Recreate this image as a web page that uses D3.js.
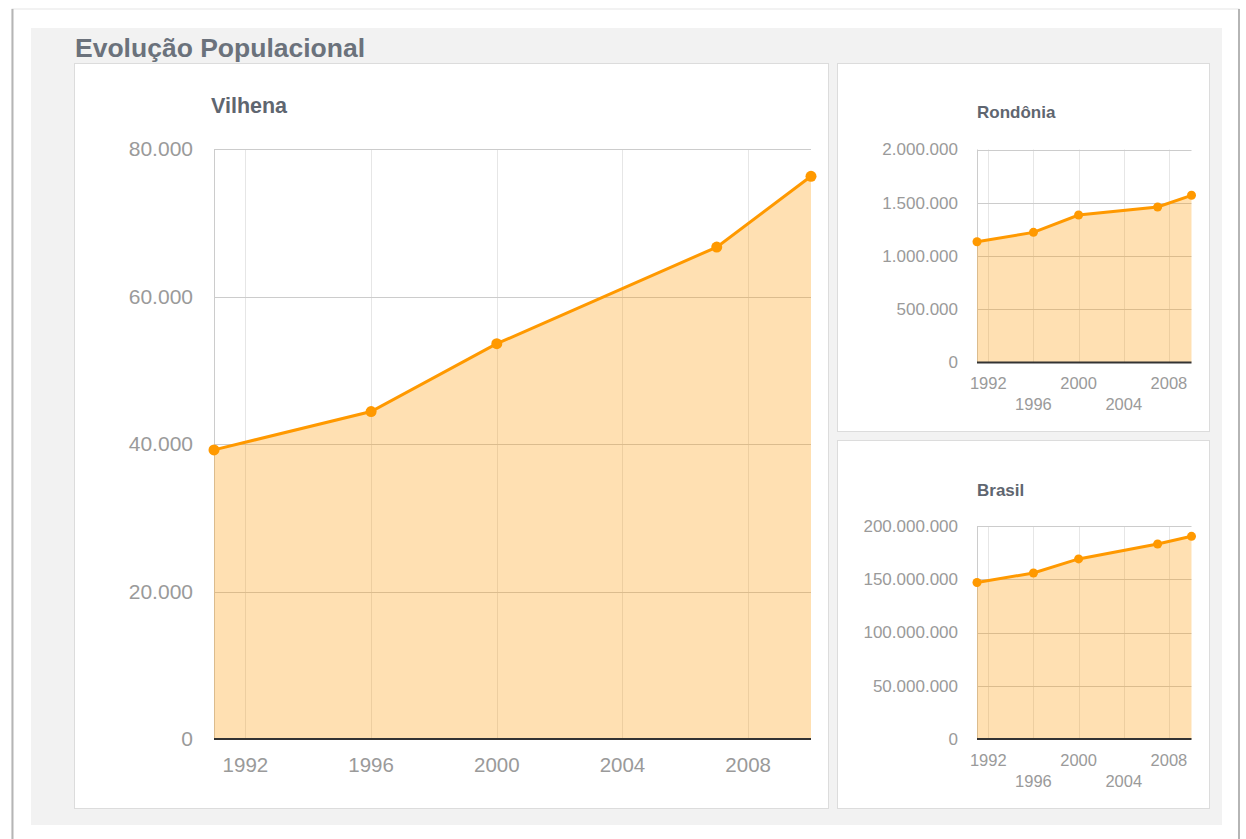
<!DOCTYPE html>
<html>
<head>
<meta charset="utf-8">
<script src="https://cdn.jsdelivr.net/npm/d3@7"></script>
<style>
  html, body { margin: 0; padding: 0; background: #ffffff; }
  svg { display: block; font-family: "Liberation Sans", Arial, sans-serif; }
</style>
</head>
<body>
<svg id="chart" width="1246" height="839"></svg>
<script>
// ---------- data ----------
const pageTitle = "Evolução Populacional";
const years = [1991, 1996, 2000, 2007, 2010];
const xTickYears = [1992, 1996, 2000, 2004, 2008];

const vilhenaTitle = "Vilhena";
const vilhenaValues = [39200, 44400, 53600, 66700, 76300];
const vilhenaTicks = [0, 20000, 40000, 60000, 80000];

const rondoniaTitle = "Rondônia";
const rondoniaValues = [1134000, 1222000, 1385000, 1460000, 1570000];
const rondoniaTicks = [0, 500000, 1000000, 1500000, 2000000];

const brasilTitle = "Brasil";
const brasilValues = [146900000, 155900000, 169100000, 183100000, 190300000];
const brasilTicks = [0, 50000000, 100000000, 150000000, 200000000];

// ---------- setup ----------
const ptBR = d3.formatLocale({decimal: ",", thousands: ".", grouping: [3], currency: ["R$", ""]});
const fmt = ptBR.format(",d");
const svg = d3.select("#chart");

// outer paper frame
svg.append("rect").attr("x", 12).attr("y", 9).attr("width", 1227).attr("height", 840)
  .attr("fill", "#ffffff").attr("stroke", "#e6e6e6").attr("stroke-width", 1);
svg.append("line").attr("x1", 12.5).attr("x2", 12.5).attr("y1", 9).attr("y2", 839)
  .attr("stroke", "#b5b5b5").attr("stroke-width", 2);
svg.append("line").attr("x1", 1239).attr("x2", 1239).attr("y1", 9).attr("y2", 839)
  .attr("stroke", "#b5b5b5").attr("stroke-width", 2);

// gray panel
svg.append("rect").attr("x", 31).attr("y", 28).attr("width", 1191).attr("height", 797)
  .attr("fill", "#f2f2f2");

svg.append("text").attr("x", 75).attr("y", 57)
  .attr("font-size", 26.5).attr("font-weight", "bold").attr("fill", "#6b727c")
  .text(pageTitle);

function drawPanel(cfg) {
  const g = svg.append("g");
  g.append("rect").attr("x", cfg.box[0] + 0.5).attr("y", cfg.box[1] + 0.5)
    .attr("width", cfg.box[2]).attr("height", cfg.box[3])
    .attr("fill", "#ffffff").attr("stroke", "#dcdcdc");

  const x = d3.scaleLinear().domain([years[0], years[years.length - 1]]).range([cfg.plot[0], cfg.plot[1]]);
  const y = d3.scaleLinear().domain([0, cfg.ticks[cfg.ticks.length - 1]]).range([cfg.plot[3], cfg.plot[2]]);

  // title
  g.append("text").attr("x", cfg.titlePos[0]).attr("y", cfg.titlePos[1])
    .attr("font-size", cfg.titleSize).attr("font-weight", "bold").attr("fill", "#5f6670")
    .text(cfg.title);

  // vertical gridlines
  g.append("g").selectAll("line").data(xTickYears).join("line")
    .attr("x1", d => Math.round(x(d)) + 0.5).attr("x2", d => Math.round(x(d)) + 0.5)
    .attr("y1", y.range()[1]).attr("y2", y.range()[0])
    .attr("stroke", "#e6e6e6");

  // horizontal gridlines
  g.append("g").selectAll("line").data(cfg.ticks.slice(1)).join("line")
    .attr("x1", x.range()[0]).attr("x2", x.range()[1])
    .attr("y1", d => Math.round(y(d)) + 0.5).attr("y2", d => Math.round(y(d)) + 0.5)
    .attr("stroke", "#cccccc");

  // left plot border
  g.append("line").attr("x1", x.range()[0] + 0.5).attr("x2", x.range()[0] + 0.5)
    .attr("y1", y.range()[1]).attr("y2", y.range()[0]).attr("stroke", "#cccccc");

  // area
  const pts = years.map((yr, i) => [yr, cfg.values[i]]);
  g.append("path").datum(pts)
    .attr("d", d3.area().x(d => x(d[0])).y0(y(0)).y1(d => y(d[1])))
    .attr("fill", "rgba(255,153,0,0.3)");

  // baseline axis
  g.append("line").attr("x1", x.range()[0]).attr("x2", x.range()[1])
    .attr("y1", y(0)).attr("y2", y(0)).attr("stroke", "#333333").attr("stroke-width", 2);

  // line
  g.append("path").datum(pts)
    .attr("d", d3.line().x(d => x(d[0])).y(d => y(d[1])))
    .attr("fill", "none").attr("stroke", "#ff9900").attr("stroke-width", cfg.lineWidth);

  g.append("g").selectAll("circle").data(pts).join("circle")
    .attr("cx", d => x(d[0])).attr("cy", d => y(d[1])).attr("r", cfg.r)
    .attr("fill", "#ff9900");

  // y labels
  const yAxis = d3.axisLeft(y).tickValues(cfg.ticks).tickFormat(fmt).tickSize(0).tickPadding(0);
  const ya = g.append("g").attr("transform", `translate(${cfg.yLabelX},0)`).call(yAxis);
  ya.select(".domain").remove();
  ya.selectAll("text").attr("font-size", cfg.labelSize).attr("fill", "#9a9a9a")
    .attr("font-family", "Liberation Sans, Arial, sans-serif");

  // x labels
  g.append("g").selectAll("text").data(xTickYears).join("text")
    .attr("x", d => x(d))
    .attr("y", (d, i) => cfg.stagger ? (i % 2 === 0 ? cfg.xLabelY[0] : cfg.xLabelY[1]) : cfg.xLabelY[0])
    .attr("text-anchor", "middle").attr("font-size", cfg.xLabelSize).attr("fill", "#9a9a9a")
    .text(d => d);
}

drawPanel({
  box: [74, 63, 754, 745], plot: [214, 811, 149, 739],
  title: vilhenaTitle, titlePos: [211, 113], titleSize: 21.5,
  values: vilhenaValues, ticks: vilhenaTicks,
  yLabelX: 193, xLabelY: [772], stagger: false, labelSize: 21, xLabelSize: 20.5, lineWidth: 3, r: 5.5
});
drawPanel({
  box: [837, 63, 372, 368], plot: [977, 1191.5, 149.5, 362.5],
  title: rondoniaTitle, titlePos: [977, 118], titleSize: 17,
  values: rondoniaValues, ticks: rondoniaTicks,
  yLabelX: 958, xLabelY: [389, 410], stagger: true, labelSize: 17, xLabelSize: 16.5, lineWidth: 3, r: 4.5
});
drawPanel({
  box: [837, 440, 372, 368], plot: [977, 1191.5, 526, 739],
  title: brasilTitle, titlePos: [977, 496], titleSize: 17,
  values: brasilValues, ticks: brasilTicks,
  yLabelX: 958, xLabelY: [766, 787], stagger: true, labelSize: 17, xLabelSize: 16.5, lineWidth: 3, r: 4.5
});
</script>
</body>
</html>
